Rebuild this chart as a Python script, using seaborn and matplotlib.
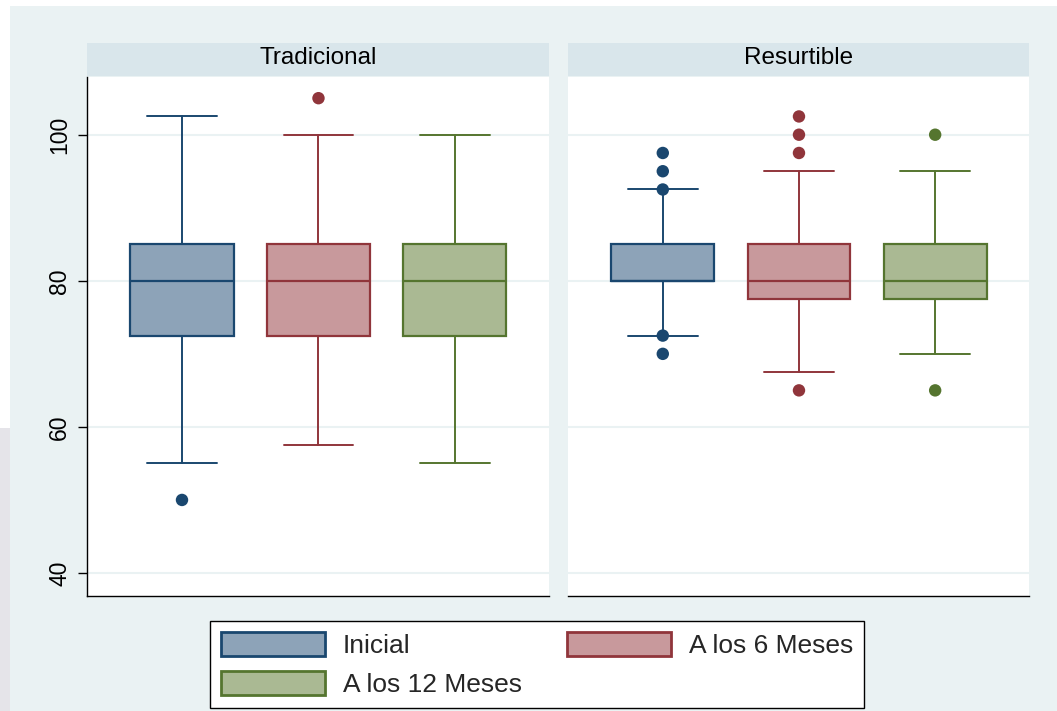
import matplotlib
matplotlib.use("Agg")
import matplotlib.pyplot as plt
from matplotlib.patches import Rectangle, Patch
import seaborn as sns
import pandas as pd

# ---------------- data ----------------
panels = ["Tradicional", "Resurtible"]
groups = ["Inicial", "A los 6 Meses", "A los 12 Meses"]

trad_whislo = [55.0, 57.5, 55.0]
trad_q1 = [72.5, 72.5, 72.5]
trad_med = [80.0, 80.0, 80.0]
trad_q3 = [85.0, 85.0, 85.0]
trad_whishi = [102.5, 100.0, 100.0]
trad_out = [[50.0], [105.0], []]

res_whislo = [72.5, 67.5, 70.0]
res_q1 = [80.0, 77.5, 77.5]
res_med = [80.0, 80.0, 80.0]
res_q3 = [85.0, 85.0, 85.0]
res_whishi = [92.5, 95.0, 95.0]
res_out = [[97.5, 95.0, 92.5, 72.5, 70.0], [102.5, 100.0, 97.5, 65.0], [100.0, 65.0]]

yticks = [40, 60, 80, 100]

edge_colors = ["#1A476F", "#90353B", "#55752F"]
fill_colors = ["#8DA3B8", "#C8999C", "#AAB993"]
BG = "#EAF2F3"
STRIP = "#D9E6EB"

sns.set_theme(style="white")
plt.rcParams["font.family"] = ["Liberation Sans", "DejaVu Sans"]

W, H = 1057, 711
fig = plt.figure(figsize=(W / 100, H / 100), dpi=100, facecolor="white")

def fx(px):
    return px / W

def fy(py):
    return (H - py) / H

# background
fig.patches.append(Rectangle((fx(10), 0), 1, fy(6), transform=fig.transFigure,
                             facecolor=BG, edgecolor="none", zorder=-10))
fig.patches.append(Rectangle((0, 0), fx(10), fy(428), transform=fig.transFigure,
                             facecolor="#E5E4E9", edgecolor="none", zorder=-10))

panel_data = {
    "Tradicional": (trad_whislo, trad_q1, trad_med, trad_q3, trad_whishi, trad_out),
    "Resurtible": (res_whislo, res_q1, res_med, res_q3, res_whishi, res_out),
}

panel_x = {"Tradicional": (87, 549), "Resurtible": (568, 1029)}
top, bottom = 77, 596

for pi, pname in enumerate(panels):
    x0, x1 = panel_x[pname]
    ax = fig.add_axes([fx(x0), fy(bottom), fx(x1 - x0), (bottom - top) / H])
    ax.set_facecolor("white")
    wlo, q1, med, q3, whi, outs = panel_data[pname]

    for gi in range(len(groups)):
        st = dict(whislo=wlo[gi], q1=q1[gi], med=med[gi], q3=q3[gi], whishi=whi[gi],
                  fliers=[], label=groups[gi])
        ec = edge_colors[gi]
        ax.bxp([st], positions=[gi], widths=0.755, patch_artist=True,
               showfliers=False, manage_ticks=False,
               boxprops=dict(facecolor=fill_colors[gi], edgecolor=ec, linewidth=1.6),
               medianprops=dict(color=ec, linewidth=1.6),
               whiskerprops=dict(color=ec, linewidth=1.4),
               capprops=dict(color=ec, linewidth=1.4),
               capwidths=0.51, zorder=3)

    # outliers via seaborn
    rows = []
    for gi, g in enumerate(groups):
        for v in outs[gi]:
            rows.append({"pos": gi, "value": v, "group": g})
    if rows:
        df = pd.DataFrame(rows)
        sns.scatterplot(data=df, x="pos", y="value", hue="group",
                        hue_order=groups, palette=edge_colors, s=80,
                        edgecolor="none", legend=False, ax=ax, zorder=4)

    ax.set_xlim(-0.696, 2.689)
    ax.set_ylim(36.85, 107.9)
    ax.set_xlabel("")
    ax.set_ylabel("")
    ax.set_xticks([])
    for y in yticks:
        ax.axhline(y, color=BG, linewidth=1.5, zorder=1)
    for s in ["top", "right"]:
        ax.spines[s].set_visible(False)
    ax.spines["bottom"].set_color("black")
    ax.spines["bottom"].set_linewidth(1.0)
    if pi == 0:
        ax.spines["left"].set_color("black")
        ax.spines["left"].set_linewidth(1.0)
        ax.set_yticks(yticks)
        ax.set_yticklabels([str(t) for t in yticks], rotation=90, va="center",
                           fontsize=16.5, color="black")
        ax.tick_params(axis="y", direction="out", length=6.5, width=1.0,
                       pad=5, left=True, colors="black")
    else:
        ax.spines["left"].set_visible(False)
        ax.set_yticks([])

    # strip header
    fig.patches.append(Rectangle((fx(x0), fy(76)), fx(x1 - x0), (76 - 43) / H,
                                 transform=fig.transFigure, facecolor=STRIP,
                                 edgecolor="none", zorder=-5))
    fig.text(fx((x0 + x1) / 2), fy(57.5), pname, ha="center", va="center",
             fontsize=17.5, color="black")

# legend
handles = [Patch(facecolor=fill_colors[i], edgecolor=edge_colors[i], linewidth=2)
           for i in range(3)]
order = [0, 2, 1]
leg = fig.legend([handles[i] for i in order], [groups[i] for i in order],
                 loc="lower left",
                 bbox_to_anchor=(fx(210), fy(708), fx(864 - 210), (708 - 620) / H),
                 mode="expand", ncol=2, fontsize=19, frameon=True,
                 fancybox=False, shadow=False, borderaxespad=0, framealpha=1,
                 handlelength=3.94, handleheight=1.06, handletextpad=0.68,
                 labelspacing=0.48, borderpad=0.42)
leg.get_frame().set_edgecolor("black")
leg.get_frame().set_linewidth(1.0)
leg.get_frame().set_facecolor("white")

fig.savefig("out.png", dpi=100, facecolor=fig.get_facecolor())
